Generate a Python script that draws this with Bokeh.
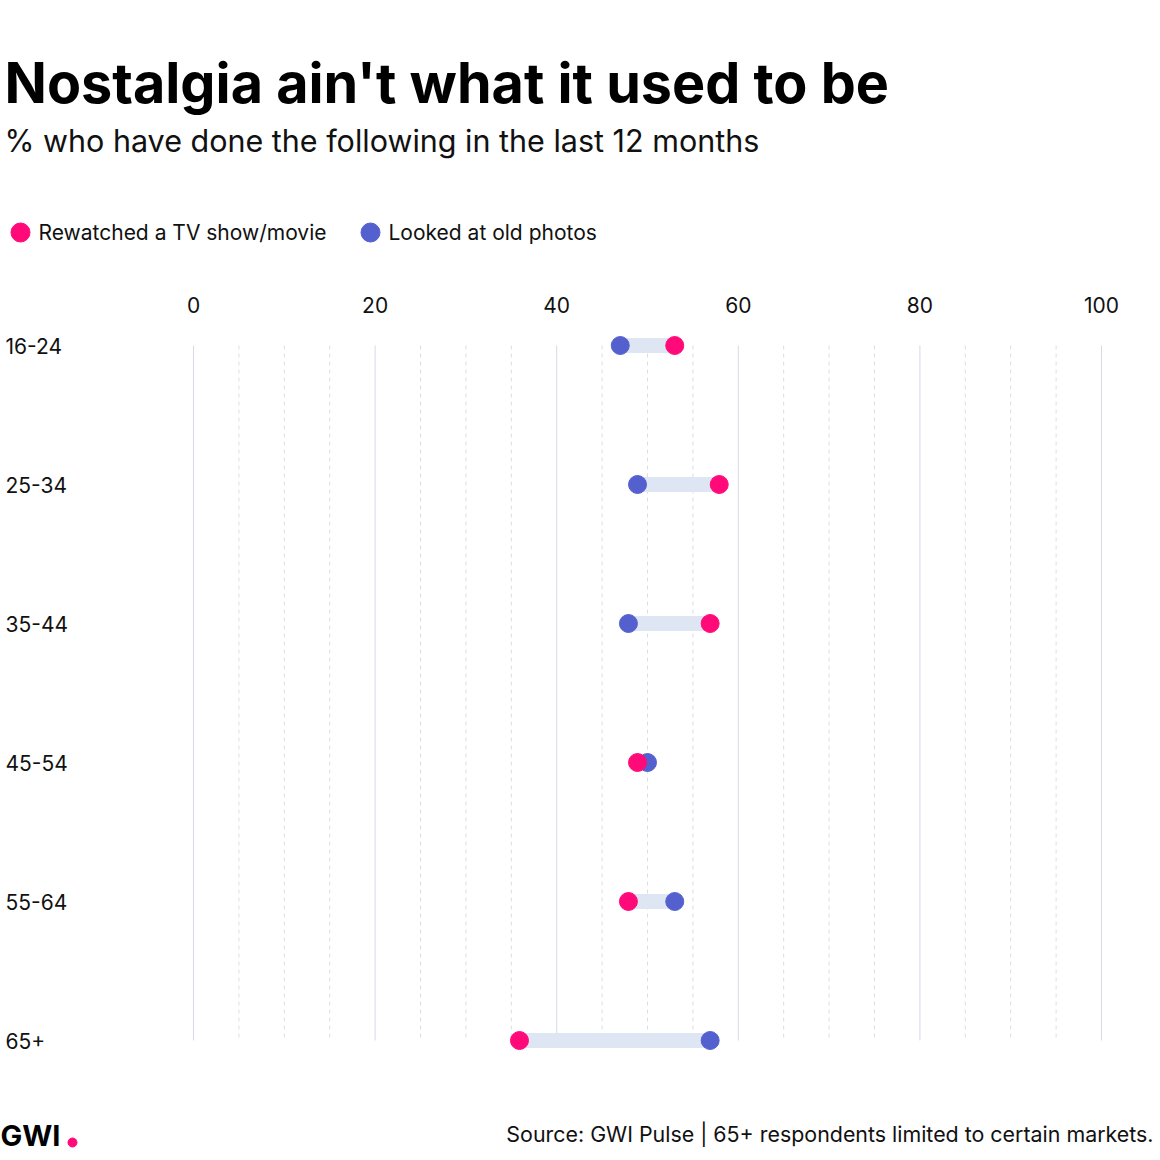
from bokeh.plotting import figure
from bokeh.models import Range1d
from bokeh.core.properties import value
from bokeh.embed import file_html
from bokeh.resources import INLINE

categories = ["16-24", "25-34", "35-44", "45-54", "55-64", "65+"]
rewatched = [53.0, 57.9, 56.9, 48.9, 47.9, 35.9]
old_photos = [47.0, 48.9, 47.9, 50.0, 53.0, 56.9]
ticks = [0, 20, 40, 60, 80, 100]
PINK = "#ff0a78"
BLUE = "#5560cf"
FONT = "Inter"

W = H = 1160
sx = 9.08   # px per percent
sy = 139.0  # px per category

def px(x): return (x - 193) / sx
def py(y): return (y - 345) / sy

p = figure(width=W, height=H, output_backend="svg", toolbar_location=None,
           x_range=Range1d(px(0), px(W)), y_range=Range1d(py(H), py(0)),
           min_border=0)
p.axis.visible = False
p.grid.visible = False
p.outline_line_color = None

ys = list(range(len(categories)))
for v in range(0, 101, 5):
    if v % 20 == 0:
        p.segment(x0=[v], y0=[0], x1=[v], y1=[5], line_color="#d8d9e4", line_width=1)
    else:
        p.segment(x0=[v], y0=[0], x1=[v], y1=[5], line_color="#dcdce4", line_width=1, line_dash="4 4")

p.segment(x0=rewatched, y0=ys, x1=old_photos, y1=ys, line_color="#dfe6f3", line_width=15)
p.scatter(x=old_photos, y=ys, size=18, color=BLUE)
p.scatter(x=rewatched, y=ys, size=18, color=PINK)

fs = value("21px")
p.text(x=ticks, y=[py(304)] * len(ticks), text=[str(t) for t in ticks], text_align="center",
       text_baseline="middle", text_font=value(FONT), text_font_size=fs, text_color="#111111")
p.text(x=[px(5)] * len(categories), y=ys, text=categories, text_baseline="middle",
       text_font=value(FONT), text_font_size=fs, text_color="#111111")

p.text(x=[px(4)], y=[py(82)], text=["Nostalgia ain't what it used to be"], text_baseline="middle",
       text_font=value(FONT), text_font_size=value("55.7px"), text_font_style="bold", text_color="#000000")
p.text(x=[px(4)], y=[py(140)], text=["% who have done the following in the last 12 months"],
       text_baseline="middle", text_font=value(FONT), text_font_size=value("30.5px"), text_color="#111111")

p.scatter(x=[px(20), px(370)], y=[py(232)] * 2, size=19, color=[PINK, BLUE])
p.text(x=[px(38), px(388)], y=[py(232)] * 2, text=["Rewatched a TV show/movie", "Looked at old photos"],
       text_baseline="middle", text_font=value(FONT), text_font_size=fs, text_color="#111111")

p.text(x=[px(0)], y=[py(1135)], text=["GWI"], text_baseline="middle", text_font=value(FONT),
       text_font_size=value("29px"), text_font_style="bold", text_color="#000000")
p.scatter(x=[px(72)], y=[py(1142)], size=9, color=PINK)
p.text(x=[px(1153)], y=[py(1133)], text=["Source: GWI Pulse | 65+ respondents limited to certain markets."],
       text_align="right", text_baseline="middle", text_font=value(FONT), text_font_size=value("21.4px"),
       text_color="#111111")

open("out.html", "w").write(file_html(p, INLINE))
